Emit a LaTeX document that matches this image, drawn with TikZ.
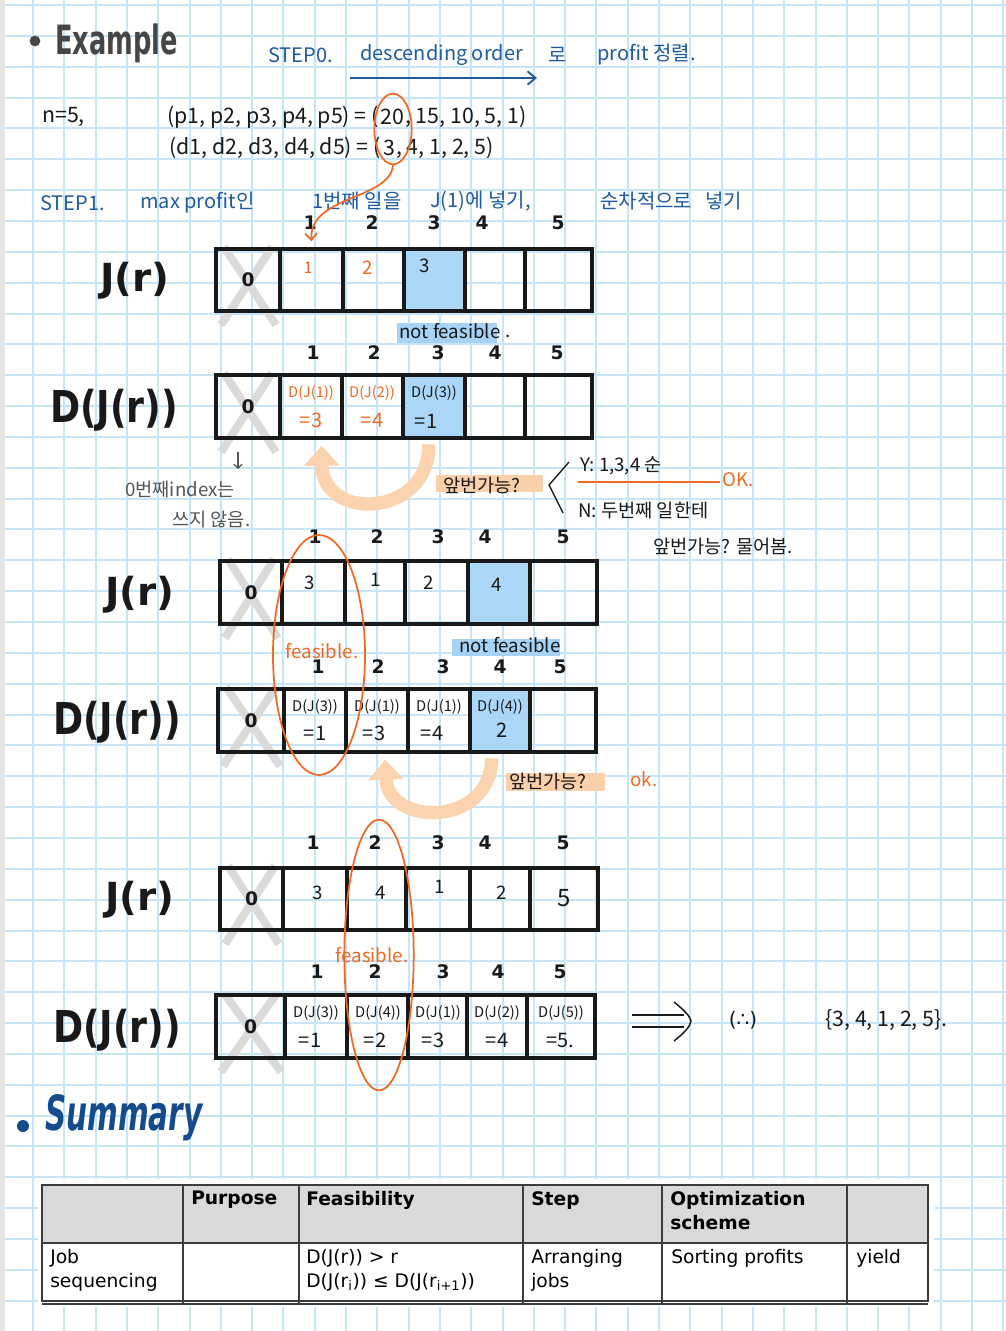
\documentclass[tikz,border=0pt]{standalone}
\usepackage{fontspec}
\usepackage{graphicx}
\usetikzlibrary{fit,shapes.geometric,arrows.meta}
\newfontfamily\kr{Noto Sans CJK KR}
\newfontfamily\dv{DejaVu Sans}
\definecolor{gridc}{RGB}{198,229,248}
\definecolor{orc}{RGB}{240,105,35}
\definecolor{arcc}{RGB}{251,212,175}
\definecolor{hlor}{RGB}{250,208,170}
\definecolor{hlbl}{RGB}{165,210,245}
\definecolor{cellbl}{RGB}{170,214,248}
\definecolor{stepc}{RGB}{30,90,160}
\definecolor{xgray}{RGB}{218,218,218}
\definecolor{ink}{RGB}{25,25,25}
\definecolor{pen}{RGB}{85,85,85}
\definecolor{hdr}{RGB}{217,217,217}
\definecolor{sumc}{RGB}{20,75,140}
\definecolor{titc}{RGB}{70,70,70}
\definecolor{tlc}{RGB}{60,60,60}
\newcommand{\mkrow}[4]{%
  \foreach \xa/\xb/\kk in {#4}{\node[cellst, fit={(\xa,#2) (\xb,#3)}] (#1-\kk) {};}}
\newcommand{\xmk}[4]{%
  \draw[xmark] (#1+8,#2-2) -- (#3-4,#4+14);
  \draw[xmark] (#3-8,#2-2) -- (#1+5,#4+14);}
\tikzset{
  gridl/.style={gridc, line width=1.5pt},
  cellst/.style={draw=ink, line width=3.6pt, inner sep=0pt, rectangle},
  xmark/.style={xgray, line width=6pt},
  hw/.style={inner sep=0pt, text=ink, font=\kr\fontsize{14}{16}\selectfont},
  big/.style={inner sep=0pt, text=ink, font=\kr\fontsize{16}{18}\selectfont},
  dtxt/.style={inner sep=0pt, text=ink, font=\kr\fontsize{11}{12}\selectfont},
  dval/.style={inner sep=0pt, text=ink, font=\kr\fontsize{15}{16}\selectfont},
  idx/.style={inner sep=0pt, text=ink, font=\dv\bfseries\fontsize{14}{14}\selectfont},
  stepst/.style={inner sep=0pt, text=stepc, font=\kr\fontsize{15}{17}\selectfont, anchor=west},
  note/.style={inner sep=0pt, text=pen, font=\kr\fontsize{14}{16}\selectfont, anchor=west},
  orline/.style={draw=orc, line width=1.3pt},
  orarc/.style={draw=arcc, line width=10pt, -{Triangle[width=26pt,length=15pt]}},
  lbl/.style={inner sep=0pt, text=ink},
  bullet/.style={circle, inner sep=0pt, minimum size=#1},
  tline/.style={draw=tlc, line width=0.8pt},
  tb/.style={inner sep=0pt, anchor=north west, align=left, font=\dv\fontsize{14}{18}\selectfont},
  tbh/.style={tb, font=\dv\bfseries\fontsize{14}{18}\selectfont},
}
\begin{document}
\begin{tikzpicture}[x=0.75pt,y=-0.75pt]
\useasboundingbox (0,0) rectangle (1006,1331);
\fill[white] (0,0) rectangle (1006,1331);
% grid paper
\foreach \i in {0,...,31} \draw[gridl] ({33+31.3*\i},0) -- ({33+31.3*\i},1331);
\foreach \j in {0,...,43} \draw[gridl] (0,{5+30.85*\j}) -- (1006,{5+30.85*\j});
\fill[black!10] (0,0) rectangle (5,1331);

% ---------- title ----------
\node[bullet=8pt, fill=titc] (bul1) at (35,41) {};
\node[lbl, text=titc, anchor=south west] (title) at (55,63) {\resizebox{92pt}{23pt}{\dv\bfseries Example}};

% STEP0
\node[stepst] (s0a) at (268,55) {STEP0.};
\node[stepst] (s0b) at (360,55) {descending order};
\node[stepst] (s0c) at (548,55) {로};
\node[stepst] (s0d) at (597,55) {profit 정렬.};
\coordinate (a0s) at (350,78);
\coordinate (a0e) at (537,78);
\draw[stepc, line width=1.4pt, -{Straight Barb[length=6pt,width=10pt]}] (a0s) -- (a0e);

% data
\node[big, anchor=west] (n5) at (42,117) {n=5,};
\node[big, anchor=east] (pa) at (379,117) {(p1, p2, p3, p4, p5) = (};
\node[big] (p20) at (392,117) {20};
\node[big, anchor=west] (pb) at (405,117) {, 15, 10, 5, 1)};
\node[big, anchor=east] (da) at (381,148) {(d1, d2, d3, d4, d5) = (};
\node[big] (d3) at (389,148) {3};
\node[big, anchor=west] (db) at (396,148) {, 4, 1, 2, 5)};
\node[orline, ellipse, minimum width=28pt, minimum height=53pt, inner sep=0pt] (e1) at (393,129) {};

% STEP1
\node[stepst] (s1a) at (40,203) {STEP1.};
\node[stepst] (s1b) at (140,203) {max profit인};
\node[stepst] (s1c) at (312,201) {1번째 일을};
\node[stepst] (s1d) at (430,201) {J(1)에 넣기,};
\node[stepst] (s1e) at (600,201) {순차적으로};
\node[stepst] (s1f) at (705,201) {넣기};

% ---------- row A ----------
\foreach \nn/\xx in {1/310,2/372,3/434,4/482,5/558} \node[idx] (iA\nn) at (\xx,223) {\nn};
\fill[cellbl] (404,249) rectangle (465,311);
\xmk{216}{249}{280}{311}
\mkrow{JA}{249}{311}{216/280/0,280/343/1,343/404/2,404/465/3,465/525/4,525/592/5}
\node[lbl] (labJA) at (135,281) {\resizebox{52pt}{22pt}{\dv\bfseries J(r)}};
\node[idx] (JA-z) at (JA-0.center) {0};
\node[hw, text=orc, font=\kr\fontsize{12}{12}\selectfont] (JA-t1) at (308,268) {1};
\node[hw, text=orc] (JA-t2) at (368,268) {2};
\node[hw] (JA-t3) at (425,266) {3};
\draw[orline, -{Straight Barb[length=5pt,width=9pt]}] (e1.south) .. controls (390,200) and (309,195) .. ([yshift=4pt]JA-1.north);

\fill[hlbl] (397,323) rectangle (497,343);
\node[hw] (nfA) at (450,331) {not feasible};
\node[hw] (nfAd) at (508,336) {.};

\foreach \nn/\xx in {1/313,2/374,3/438,4/495,5/557} \node[idx] (iD\nn) at (\xx,353) {\nn};
\fill[cellbl] (403,375) rectangle (465,438);
\xmk{216}{375}{280}{438}
\mkrow{DA}{375}{438}{216/280/0,280/342/1,342/403/2,403/465/3,465/525/4,525/592/5}
\node[lbl] (labDA) at (114,410) {\resizebox{96pt}{25pt}{\dv\bfseries D(J(r))}};
\node[idx] (DA-z) at (DA-0.center) {0};
\node[dtxt, text=orc] (DA-a1) at (311,393) {D(J(1))};
\node[dval, text=orc] (DA-b1) at (311,420) {=3};
\node[dtxt, text=orc] (DA-a2) at (372,393) {D(J(2))};
\node[dval, text=orc] (DA-b2) at (372,420) {=4};
\node[dtxt] (DA-a3) at (434,393) {D(J(3))};
\node[dval] (DA-b3) at (426,421) {=1};

\draw[orarc] ([xshift=-4pt,yshift=-3pt]DA-3.south) .. controls (430,518) and (322,522) .. ([xshift=8pt,yshift=-4pt]DA-1.south);

% notes
\coordinate (dnA) at (238,452);
\coordinate (dnB) at (238,469);
\draw[pen, line width=0.9pt, -{Straight Barb[length=3pt,width=6pt]}] (dnA) -- (dnB);
\node[note] (n0a) at (125,490) {0번째index는};
\node[note] (n0b) at (172,520) {쓰지 않음.};

\fill[hlor] (436,475) rectangle (543,492);
\node[hw] (qA) at (482,485) {앞번가능?};
\draw[ink, line width=1pt] (569,462) -- (549,485) -- (563,513);
\node[note, text=ink] (yA) at (580,466) {Y:  1,3,4  순};
\draw[orline] (578,482) -- (720,482);
\node[hw, text=orc, anchor=west] (okA) at (722,480) {OK.};
\node[note, text=ink] (nA) at (578,511) {N:  두번째 일한테};
\node[note, text=ink] (nB) at (653,547) {앞번가능?  물어봄.};

% ---------- row B ----------
\foreach \nn/\xx in {1/315,2/377,3/438,4/485,5/563} \node[idx] (iB\nn) at (\xx,537) {\nn};
\fill[cellbl] (468,561) rectangle (530,624);
\xmk{220}{561}{282}{624}
\mkrow{JB}{561}{624}{220/282/0,282/345/1,345/405/2,405/468/3,468/530/4,530/597/5}
\node[lbl] (labJB) at (140,595) {\resizebox{52pt}{22pt}{\dv\bfseries J(r)}};
\node[idx] (JB-z) at (JB-0.center) {0};
\node[hw] (JB-t1) at (310,583) {3};
\node[hw] (JB-t2) at (376,580) {1};
\node[hw] (JB-t3) at (429,583) {2};
\node[hw] (JB-t4) at (497,585) {4};

\fill[hlbl] (452,639) rectangle (560,656);
\node[hw] (nfB) at (510,645) {not feasible};
\node[hw, text=orc] (fB) at (322,651) {feasible.};

\foreach \nn/\xx in {1/318,2/378,3/443,4/500,5/560} \node[idx] (iE\nn) at (\xx,667) {\nn};
\fill[cellbl] (470,689) rectangle (530,752);
\xmk{218}{689}{284}{752}
\mkrow{DB}{689}{752}{218/284/0,284/346/1,346/408/2,408/470/3,470/530/4,530/596/5}
\node[lbl] (labDB) at (117,722) {\resizebox{96pt}{25pt}{\dv\bfseries D(J(r))}};
\node[idx] (DB-z) at (DB-0.center) {0};
\node[dtxt] (DB-a1) at (315,707) {D(J(3))};
\node[dval] (DB-b1) at (315,733) {=1};
\node[dtxt] (DB-a2) at (377,707) {D(J(1))};
\node[dval] (DB-b2) at (374,733) {=3};
\node[dtxt] (DB-a3) at (439,707) {D(J(1))};
\node[dval] (DB-b3) at (432,733) {=4};
\node[dtxt] (DB-a4) at (500,707) {D(J(4))};
\node[dval] (DB-b4) at (502,730) {2};

\node[orline, ellipse, minimum width=69pt, minimum height=180pt, inner sep=0pt] (e2) at (319,655) {};

\draw[orarc] ([xshift=-6pt,yshift=-3pt]DB-4.south) .. controls (490,828) and (388,826) .. ([xshift=6pt,yshift=-4pt]DB-2.south);
\fill[hlor] (506,773) rectangle (605,791);
\node[hw] (qB) at (548,781) {앞번가능?};
\node[hw, text=orc, anchor=west] (okB) at (630,779) {ok.};

% ---------- row C ----------
\foreach \nn/\xx in {1/313,2/375,3/438,4/485,5/563} \node[idx] (iC\nn) at (\xx,843) {\nn};
\xmk{220}{868}{283}{930}
\mkrow{JC}{868}{930}{220/283/0,283/347/1,347/406/2,406/470/3,470/530/4,530/598/5}
\node[lbl] (labJC) at (140,900) {\resizebox{52pt}{22pt}{\dv\bfseries J(r)}};
\node[idx] (JC-z) at (JC-0.center) {0};
\node[hw] (JC-t1) at (318,893) {3};
\node[hw] (JC-t2) at (381,893) {4};
\node[hw] (JC-t3) at (440,887) {1};
\node[hw] (JC-t4) at (502,893) {2};
\node[hw, font=\kr\fontsize{18}{18}\selectfont] (JC-t5) at (564,898) {5};

\node[hw, text=orc] (fC) at (372,955) {feasible.};

\foreach \nn/\xx in {1/317,2/375,3/443,4/498,5/560} \node[idx] (iF\nn) at (\xx,972) {\nn};
\xmk{216}{995}{285}{1058}
\mkrow{DC}{995}{1058}{216/285/0,285/347/1,347/408/2,408/467/3,467/527/4,527/595/5}
\node[lbl] (labDC) at (117,1030) {\resizebox{96pt}{25pt}{\dv\bfseries D(J(r))}};
\node[idx] (DC-z) at (DC-0.center) {0};
\node[dtxt] (DC-a1) at (316,1013) {D(J(3))};
\node[dval] (DC-b1) at (310,1040) {=1};
\node[dtxt] (DC-a2) at (378,1013) {D(J(4))};
\node[dval] (DC-b2) at (375,1040) {=2};
\node[dtxt] (DC-a3) at (438,1013) {D(J(1))};
\node[dval] (DC-b3) at (433,1040) {=3};
\node[dtxt] (DC-a4) at (497,1013) {D(J(2))};
\node[dval] (DC-b4) at (497,1040) {=4};
\node[dtxt] (DC-a5) at (561,1013) {D(J(5))};
\node[dval] (DC-b5) at (560,1040) {=5.};

\node[orline, ellipse, minimum width=52pt, minimum height=203pt, inner sep=0pt] (e3) at (379,955) {};

% result
\coordinate (ra) at (632,1015);
\coordinate (rb) at (684,1015);
\coordinate (rc) at (632,1027);
\coordinate (rd) at (684,1027);
\draw[ink, line width=1.1pt] (ra) -- (rb) (rc) -- (rd);
\draw[ink, line width=1.1pt] (674,1002) .. controls (684,1010) and (690,1016) .. (691,1021) .. controls (690,1027) and (684,1033) .. (674,1041);
\node[hw, font=\dv\fontsize{15}{16}\selectfont] (there) at (743,1020) {(∴)};
\node[big, anchor=west] (res) at (825,1020) {\{3, 4, 1, 2, 5\}.};

% ---------- summary ----------
\node[bullet=9pt, fill=sumc] (bul2) at (23,1126) {};
\node[lbl, text=sumc, anchor=south west] (summ) at (45,1141) {\resizebox{118pt}{27pt}{\dv\bfseries\itshape Summary}};

% table
\fill[white] (38,1179) rectangle (934,1307);
\fill[hdr] (42,1185) rectangle (928,1243);
\draw[tline] (42,1185) rectangle (928,1301);
\draw[tline] (42,1304) -- (928,1304);
\draw[tline] (42,1243) -- (928,1243);
\foreach \xx in {183,299,523,662,847} \draw[tline] (\xx,1185) -- (\xx,1304);
\node[tbh] (thP) at (191,1191) {Purpose};
\node[tbh] (thF) at (306,1191) {Feasibility};
\node[tbh] (thS) at (531,1191) {Step};
\node[tbh] (thO) at (670,1191) {Optimization\\scheme};
\node[tb] (tdJ) at (50,1249) {Job\\sequencing};
\node[tb] (tdF) at (306,1249) {D(J(r)) > r\\D(J(r\textsubscript{i})) ≤ D(J(r\textsubscript{i+1}))};
\node[tb] (tdS) at (531,1249) {Arranging\\jobs};
\node[tb] (tdO) at (671,1249) {Sorting profits};
\node[tb] (tdY) at (856,1249) {yield};
\end{tikzpicture}
\end{document}
